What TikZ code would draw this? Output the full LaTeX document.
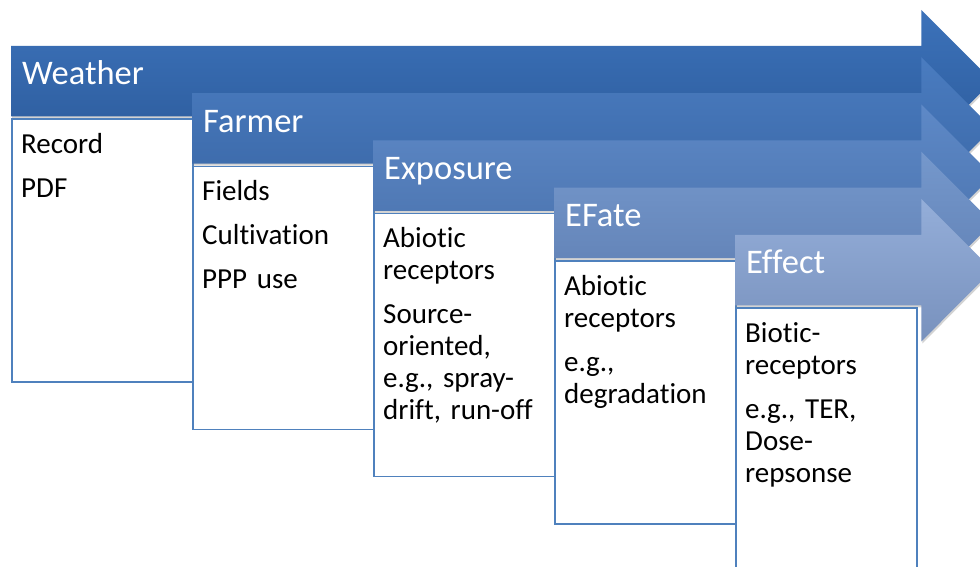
\documentclass[tikz,border=0pt]{standalone}
\usepackage{fontspec}
\setmainfont{Carlito}[Ligatures=NoCommon, WordSpace=0.85]
\usetikzlibrary{calc,positioning,shadows}

\definecolor{weathertop}{HTML}{3C72BA}
\definecolor{weatherbot}{HTML}{2C5B9B}
\definecolor{farmertop}{HTML}{4A7CC0}
\definecolor{farmerbot}{HTML}{3A67A6}
\definecolor{exposuretop}{HTML}{5E89C7}
\definecolor{exposurebot}{HTML}{4A73AE}
\definecolor{efatetop}{HTML}{7598CC}
\definecolor{efatebot}{HTML}{5F7FB3}
\definecolor{effecttop}{HTML}{94AED9}
\definecolor{effectbot}{HTML}{7891BD}
\definecolor{boxblue}{HTML}{4F81BD}

\tikzstyle{bar} = [rectangle, inner sep=0pt, minimum height=70pt, anchor=north west]
\tikzstyle{arrow} = [drop shadow={shadow xshift=1pt, shadow yshift=-2pt, opacity=0.35}]
\tikzstyle{title} = [text=white, font=\fontsize{34.5}{40}\selectfont, inner sep=0pt]
\tikzstyle{block} = [rectangle, draw=boxblue, line width=1.5pt, fill=white,
    minimum width=181pt, minimum height=263pt, inner sep=0pt]
\tikzstyle{items} = [text width=170pt, align=left, font=\fontsize{29}{32}\selectfont, inner sep=0pt]

\begin{document}
\begin{tikzpicture}[x=1pt, y=1pt]
	\useasboundingbox (0,0) rectangle (980,567);
	\clip (0,0) rectangle (980,567);

	% Weather
	\node [bar, minimum width=910pt] (WeatherBar) at (11,521) {};
	\shade [arrow, top color=weathertop, bottom color=weatherbot] (WeatherBar.north west) -- (WeatherBar.north east) -- ++(0,36)
		-- ($(WeatherBar.east)+(71,0)$) -- ($(WeatherBar.south east)+(0,-36)$) -- (WeatherBar.south east) -- (WeatherBar.south west) -- cycle;
	\node [title, below right=39pt and 11pt of WeatherBar.north west, anchor=base west] (WeatherTitle) {Weather};
	\node [block, below=2pt of WeatherBar.south west, anchor=north west] (WeatherBox) {};
	\node [items, below right=35pt and 10pt of WeatherBox.north west, anchor=base west] (WeatherItems) {Record\\[12pt]PDF};

	% Farmer
	\node [bar, minimum width=729pt] (FarmerBar) at (192,473.75) {};
	\shade [arrow, top color=farmertop, bottom color=farmerbot] (FarmerBar.north west) -- (FarmerBar.north east) -- ++(0,36)
		-- ($(FarmerBar.east)+(71,0)$) -- ($(FarmerBar.south east)+(0,-36)$) -- (FarmerBar.south east) -- (FarmerBar.south west) -- cycle;
	\node [title, below right=39pt and 11pt of FarmerBar.north west, anchor=base west] (FarmerTitle) {Farmer};
	\node [block, below=2pt of FarmerBar.south west, anchor=north west] (FarmerBox) {};
	\node [items, below right=35pt and 10pt of FarmerBox.north west, anchor=base west] (FarmerItems) {Fields\\[12pt]Cultivation\\[12pt]PPP use};

	% Exposure
	\node [bar, minimum width=548pt] (ExposureBar) at (373,426.5) {};
	\shade [arrow, top color=exposuretop, bottom color=exposurebot] (ExposureBar.north west) -- (ExposureBar.north east) -- ++(0,36)
		-- ($(ExposureBar.east)+(71,0)$) -- ($(ExposureBar.south east)+(0,-36)$) -- (ExposureBar.south east) -- (ExposureBar.south west) -- cycle;
	\node [title, below right=39pt and 11pt of ExposureBar.north west, anchor=base west] (ExposureTitle) {Exposure};
	\node [block, below=2pt of ExposureBar.south west, anchor=north west] (ExposureBox) {};
	\node [items, below right=35pt and 10pt of ExposureBox.north west, anchor=base west] (ExposureItems)
		{Abiotic\\receptors\\[12pt]Source-\\oriented,\\e.g., spray-\\drift, run-off};

	% EFate
	\node [bar, minimum width=367pt] (EFateBar) at (554,379.25) {};
	\shade [arrow, top color=efatetop, bottom color=efatebot] (EFateBar.north west) -- (EFateBar.north east) -- ++(0,36)
		-- ($(EFateBar.east)+(71,0)$) -- ($(EFateBar.south east)+(0,-36)$) -- (EFateBar.south east) -- (EFateBar.south west) -- cycle;
	\node [title, below right=39pt and 11pt of EFateBar.north west, anchor=base west] (EFateTitle) {EFate};
	\node [block, below=2pt of EFateBar.south west, anchor=north west] (EFateBox) {};
	\node [items, below right=35pt and 10pt of EFateBox.north west, anchor=base west] (EFateItems)
		{Abiotic\\receptors\\[12pt]e.g.,\\degradation};

	% Effect
	\node [bar, minimum width=186pt] (EffectBar) at (735,332) {};
	\shade [arrow, top color=effecttop, bottom color=effectbot] (EffectBar.north west) -- (EffectBar.north east) -- ++(0,36)
		-- ($(EffectBar.east)+(71,0)$) -- ($(EffectBar.south east)+(0,-36)$) -- (EffectBar.south east) -- (EffectBar.south west) -- cycle;
	\node [title, below right=39pt and 11pt of EffectBar.north west, anchor=base west] (EffectTitle) {Effect};
	\node [block, below=2pt of EffectBar.south west, anchor=north west] (EffectBox) {};
	\node [items, below right=35pt and 10pt of EffectBox.north west, anchor=base west] (EffectItems)
		{Biotic-\\receptors\\[12pt]e.g., TER,\\Dose-\\repsonse};

\end{tikzpicture}
\end{document}
